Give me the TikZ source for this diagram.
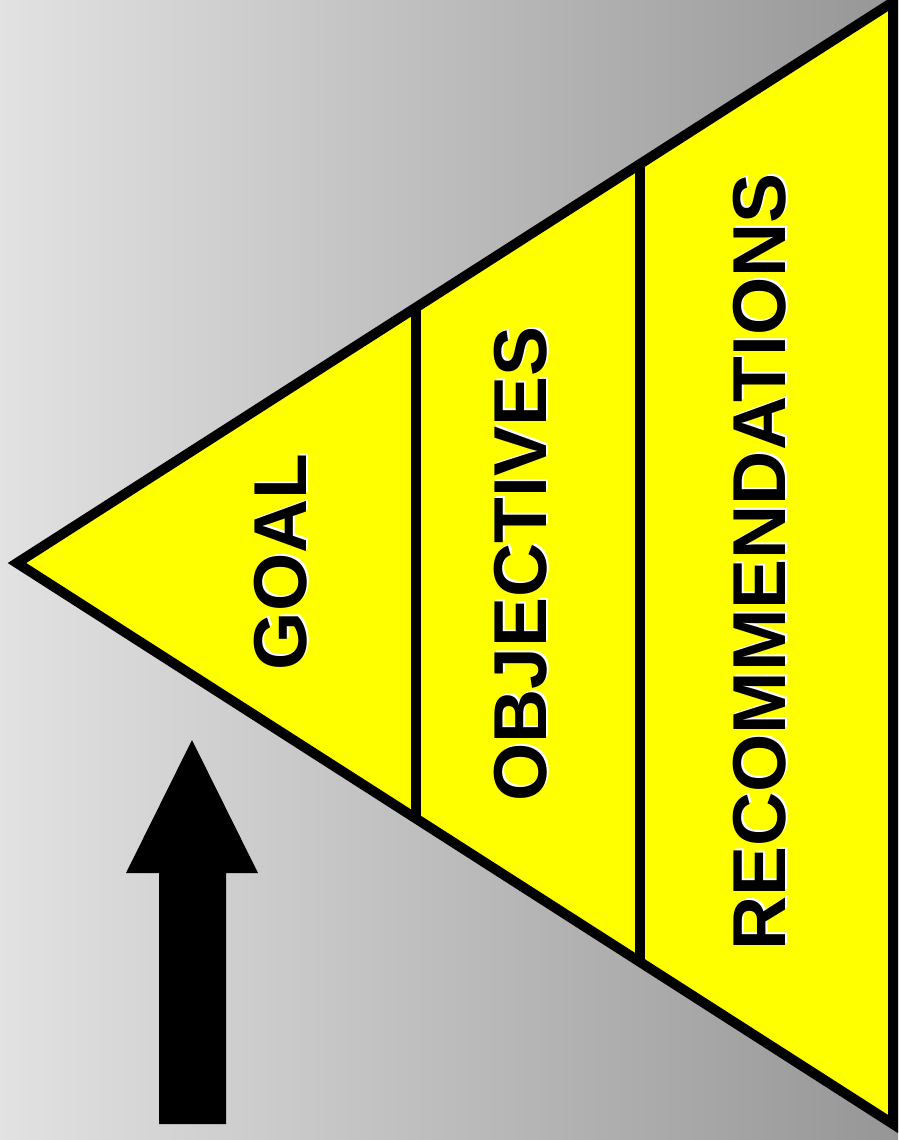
\documentclass[tikz,border=0pt]{standalone}
\usepackage{fontspec}
\setmainfont{Liberation Sans}
\usetikzlibrary{calc}
\definecolor{bgleft}{RGB}{226,226,226}
\definecolor{bgright}{RGB}{150,150,150}
\definecolor{pyr}{RGB}{255,255,0}
\tikzset{
  lbl/.style={rotate=90, font=\fontsize{75}{75}\selectfont\bfseries, inner sep=0pt, text=black},
  lblshadow/.style={lbl, text=white},
  edge/.style={line width=10pt, draw=black}
}
\begin{document}
\begin{tikzpicture}[x=1pt,y=-1pt]
\useasboundingbox (0,0) rectangle (898,1140);
\shade[left color=bgleft, right color=bgright] (0,0) rectangle (898,1140);
\coordinate (tip) at (17,563);
\coordinate (tr) at (893,2);
\coordinate (br) at (893,1124);
\filldraw[fill=pyr, edge, line join=miter, miter limit=20] (tip) -- (tr) -- (br) -- cycle;
\coordinate (d1t) at ($(tip)!0.4555!(tr)$);
\coordinate (d1b) at ($(tip)!0.4555!(br)$);
\coordinate (d2t) at ($(tip)!0.7112!(tr)$);
\coordinate (d2b) at ($(tip)!0.7112!(br)$);
\draw[edge] (d1t) -- (d1b);
\draw[edge] (d2t) -- (d2b);
% labels with white shadow
\node[lblshadow] (goalsh) at (283,560) {GOAL};
\node[lbl] (goal) at (281,562) {GOAL};
\node[lblshadow] (objsh) at (523,562) {OBJECTIVES};
\node[lbl] (obj) at (521,564) {OBJECTIVES};
\node[lblshadow] (recsh) at (762,560) {RECOMMENDATIONS};
\node[lbl] (rec) at (760,562) {RECOMMENDATIONS};
% arrow
\fill[black] (192,740) -- (258,873) -- (226,873) -- (226,1124) -- (159,1124) -- (159,873) -- (126,873) -- cycle;
\end{tikzpicture}
\end{document}
